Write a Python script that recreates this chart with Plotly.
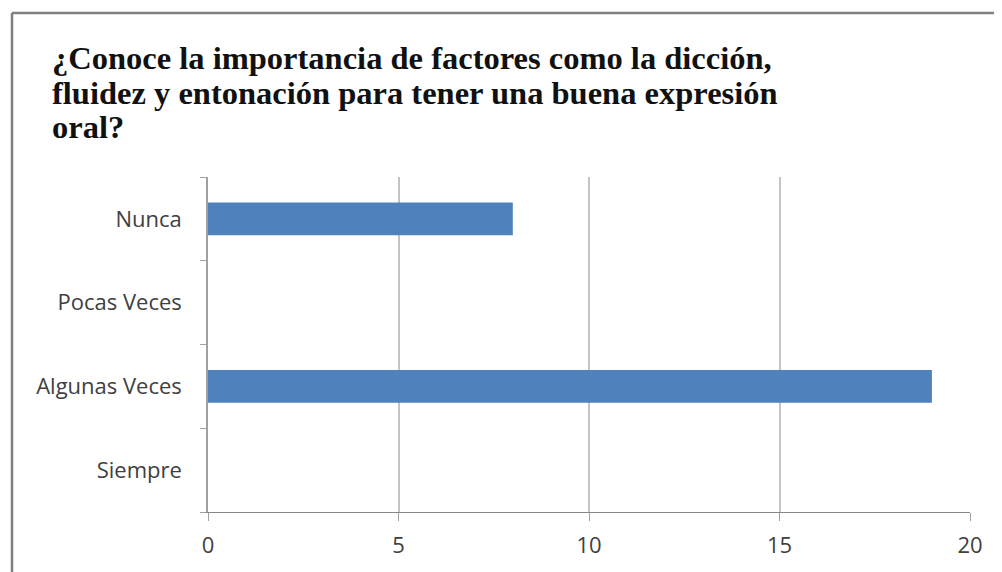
import plotly.graph_objects as go

categories = ["Nunca", "Pocas Veces", "Algunas Veces", "Siempre"]
values = [8, 0, 19, 0]
x_ticks = [0, 5, 10, 15, 20]
title_lines = ["¿Conoce la importancia de factores como la dicción,",
               "fluidez y entonación para tener una buena expresión",
               "oral?"]

W, H = 1002, 572
L, R, T, B = 200, 40, 169, 68
pw, ph = W - L - R, H - T - B


def px(xf):
    return (xf - L) / pw


def py(yf):
    return (H - B - yf) / ph


fig = go.Figure()
fig.add_trace(go.Bar(
    y=categories, x=values, orientation="h",
    marker=dict(color="#4f81bd", line=dict(width=0)),
    width=0.39,
))

axis_font = dict(family="Open Sans, Lato, sans-serif", size=22, color="#404040")
title_font = dict(family="Liberation Serif, Times New Roman, serif", size=32.5, color="#111111")

annotations = []
for i, line in enumerate(title_lines):
    annotations.append(dict(
        text="<b>" + line + "</b>", xref="paper", yref="paper",
        x=px(42), y=py(50 + 34.5 * i), xanchor="left", yanchor="middle",
        showarrow=False, font=title_font,
    ))

fig.update_layout(
    width=W, height=H,
    margin=dict(l=L, r=R, t=T, b=B),
    paper_bgcolor="white", plot_bgcolor="white",
    showlegend=False,
    annotations=annotations,
    xaxis=dict(
        range=[0, 20], tickvals=x_ticks, ticktext=[str(v) for v in x_ticks],
        showgrid=True, gridcolor="#c4c4c4", gridwidth=1.5,
        showline=True, linecolor="#868686", linewidth=1,
        ticks="outside", ticklen=8, tickcolor="#a0a0a0",
        tickfont=axis_font, ticklabelstandoff=6, zeroline=False, fixedrange=True,
    ),
    yaxis=dict(
        categoryorder="array", categoryarray=categories[::-1],
        showgrid=False, showline=True, linecolor="#a0a0a0", linewidth=1.5,
        ticks="outside", ticklen=6, tickcolor="#a0a0a0", tickson="boundaries",
        tickfont=axis_font, ticklabelstandoff=20, fixedrange=True,
    ),
    shapes=[
        dict(type="line", xref="paper", yref="paper",
             x0=px(4), x1=px(4), y0=py(5), y1=-0.5,
             line=dict(color="#808080", width=2.5)),
        dict(type="line", xref="paper", yref="paper",
             x0=px(4), x1=1.2, y0=py(5), y1=py(5),
             line=dict(color="#808080", width=2.5)),
    ],
)
fig.write_html("out.html")
